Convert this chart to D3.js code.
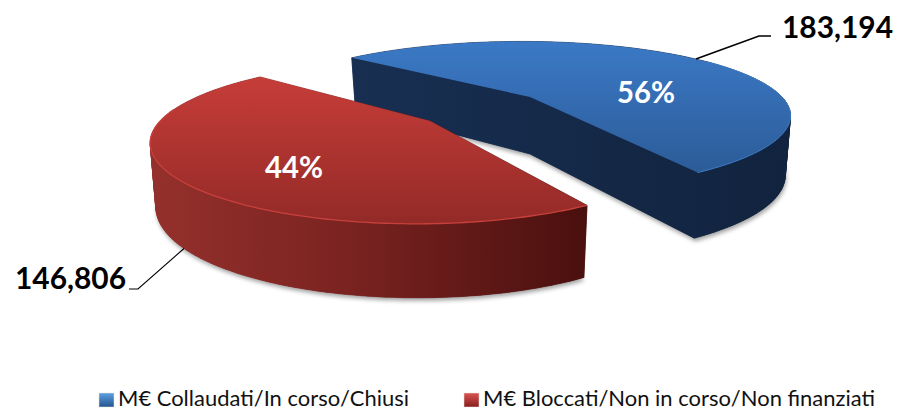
<!DOCTYPE html>
<html><head><meta charset="utf-8">
<script src="https://cdn.jsdelivr.net/npm/d3@7"></script>
<style>html,body{margin:0;padding:0;background:#fff}svg{display:block}</style>
</head><body><svg id="c" width="897" height="410"></svg>
<script>
const categories = ["M€ Collaudati/In corso/Chiusi", "M€ Bloccati/Non in corso/Non finanziati"];
const values = [183194, 146806];
const percents = [0.56, 0.44];

const svg = d3.select("#c");
const deg = Math.PI / 180;

const pieces = d3.pie().sort(null).startAngle(-50 * deg).endAngle(310 * deg)(values);
const layout = [
  { apex: [530, 97], A: 262, B: 70, spin: -0.5, d0: 57, d1: 10, top: "gTopB", side: ["#182f52", "#11233e"], pct: [116, -6],
    lab: { x: 782, y: 38, w: 111 }, elbow: [[759, 36], [771, 36]], onTop: true, mark: "gMarkB", markX: 99, textX: 118, textW: 291 },
  { apex: [430, 121], A: 259, B: 76, spin: 1.5, d0: 60, d1: 14, top: "gTopR", side: ["#94302b", "#7a2321", "#4a100e"], pct: [-136, 45],
    lab: { x: 15, y: 289, w: 111 }, elbow: [[138, 289], [129, 289]], onTop: false, mark: "gMarkR", markX: 464, textX: 483, textW: 392 }
];
const kV = 0.26, mU = 0.04;
const project = (L, th, r = 1) => {
  const t = th + L.spin * deg;
  const u = r * Math.sin(t), v = r * Math.cos(t), w = 1 + kV * v + mU * u;
  return { x: L.apex[0] + L.A * u / w, y: L.apex[1] - L.B * v / w, v, u };
};
const lower = (L, p) => ({
  x: L.apex[0] + (p.x - L.apex[0]) * 0.98,
  y: p.y + L.d0 - L.d1 * p.v
});

const defs = svg.append("defs");
const grad = (id, x2, y2, stops) => {
  const g = defs.append("linearGradient").attr("id", id)
    .attr("x1", 0).attr("y1", 0).attr("x2", x2).attr("y2", y2);
  stops.forEach(s => g.append("stop").attr("offset", s[0]).attr("stop-color", s[1]));
  return g;
};
grad("gTopB", 0, 1, [[0, "#3b79c6"], [1, "#2c5c98"]]);
grad("gTopR", 0, 1, [[0, "#c63d39"], [1, "#932a27"]]);
grad("gMarkB", 0, 1, [[0, "#5f9fe0"], [1, "#22558f"]]);
grad("gMarkR", 0, 1, [[0, "#dc5450"], [1, "#861e1c"]]);
defs.append("filter").attr("id", "blur").attr("x", "-5%").attr("y", "-5%").attr("width", "110%").attr("height", "115%")
  .append("feGaussianBlur").attr("stdDeviation", 2.2);

const line = d3.line().x(d => d.x).y(d => d.y);

pieces.forEach((d, i) => {
  const L = layout[i];
  const n = 160;
  const arc = d3.range(n + 1).map(j => project(L, d.startAngle + (d.endAngle - d.startAngle) * j / n));
  const centre = project(L, 0, 0);
  const ring = [centre, ...arc, centre];
  const low = ring.map(p => lower(L, p));
  const g = svg.append("g");

  g.append("path").attr("d", line(low) + "Z")
    .attr("transform", "translate(1,3)")
    .attr("fill", "#555").attr("opacity", 0.55).attr("filter", "url(#blur)");

  // walls share one horizontal gradient in page space, so overlapping quads show no seams
  const x0 = d3.min(low, p => p.x), x1 = d3.max(low, p => p.x);
  const wallId = "wall" + i;
  const wg = defs.append("linearGradient").attr("id", wallId).attr("gradientUnits", "userSpaceOnUse")
    .attr("x1", x0).attr("y1", 0).attr("x2", x1).attr("y2", 0);
  L.side.forEach((c, j) => wg.append("stop")
    .attr("offset", L.side.length === 3 ? [0, 0.45, 1][j] : j).attr("stop-color", c));

  const quads = d3.range(ring.length - 1).map(j => [ring[j], ring[j + 1], low[j + 1], low[j]]);
  const walls = g.append("g");
  walls.append("path").attr("d", line(low) + "Z").attr("fill", `url(#${wallId})`);
  walls.selectAll("path.q").data(quads).join("path").attr("class", "q")
    .attr("d", q => line(q) + "Z")
    .attr("fill", `url(#${wallId})`)
    .attr("stroke", `url(#${wallId})`)
    .attr("stroke-width", 0.6);

  g.append("path").attr("d", line(ring) + "Z").attr("fill", `url(#${L.top})`);
  if (i === 1) {
    g.append("path").attr("d", line(arc.filter(p => p.v < 0.15)))
      .attr("fill", "none").attr("stroke", "#c8403c").attr("stroke-width", 1.3);
  } else {
    g.append("path").attr("d", line(arc.filter(p => p.u > 0.2 && p.v < 0.6)))
      .attr("fill", "none").attr("stroke", "#3f7cc6").attr("stroke-width", 1);
  }
});

pieces.forEach((d, i) => {
  const L = layout[i], apex = L.apex;
  const mid = project(L, (d.startAngle + d.endAngle) / 2);
  const a = L.onTop ? mid : lower(L, mid);
  const pts = [[a.x, a.y], ...L.elbow];
  svg.append("path").attr("d", d3.line()(pts)).attr("fill", "none")
    .attr("stroke", "#000").attr("stroke-width", i === 0 ? 1.6 : 1.1);

  svg.append("text").attr("x", L.lab.x).attr("y", L.lab.y)
    .attr("textLength", L.lab.w).attr("lengthAdjust", "spacingAndGlyphs")
    .attr("font-family", "Lato").attr("font-weight", 700).attr("font-size", 30).attr("fill", "#000")
    .text(d3.format(",")(d.value));

  svg.append("text").attr("x", apex[0] + L.pct[0]).attr("y", apex[1] + L.pct[1] + 12)
    .attr("text-anchor", "middle")
    .attr("textLength", 58).attr("lengthAdjust", "spacingAndGlyphs")
    .attr("font-family", "Lato").attr("font-weight", 700).attr("font-size", 31).attr("fill", "#fff")
    .text(d3.format(".0%")(percents[i]));

  svg.append("rect").attr("x", L.markX).attr("y", 393).attr("width", 15).attr("height", 14)
    .attr("fill", `url(#${L.mark})`).attr("stroke", "#e4e4e4").attr("stroke-width", 0.5);
  svg.append("text").attr("x", L.textX).attr("y", 405.5)
    .attr("textLength", L.textW).attr("lengthAdjust", "spacingAndGlyphs")
    .attr("font-family", "Lato").attr("font-size", 20.5).attr("fill", "#111")
    .text(categories[i]);
});
</script></body></html>
